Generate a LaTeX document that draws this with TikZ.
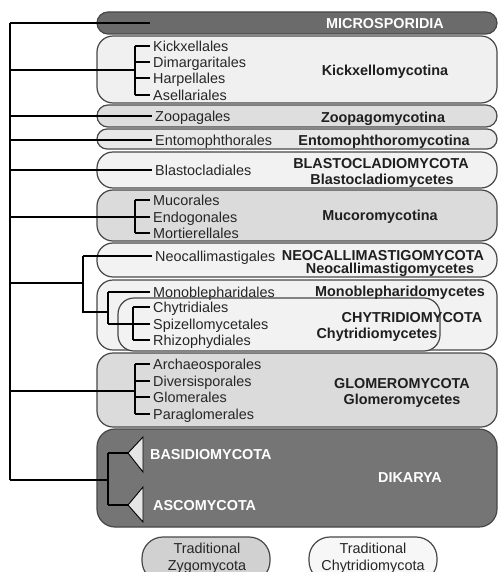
\documentclass[tikz,border=0pt]{standalone}
\usepackage{fontspec}
\setmainfont{Liberation Sans}
\begin{document}
\begin{tikzpicture}[x=1pt,y=-1pt,
  every node/.style={font=\fontsize{14.4}{16}\selectfont},
  box/.style={draw=black!72,line width=1.2pt,rounded corners=#1},
  box/.default=14pt,
  item/.style={anchor=west,inner xsep=3pt,inner ysep=0pt,text height=10.3pt,text depth=0pt,text=black!85},
  title/.style={font=\fontsize{14.4}{16}\selectfont\bfseries,inner sep=0pt,text height=10.3pt,text depth=0pt,text=black!88},
  wtitle/.style={title,text=white},
  legend/.style={align=center,inner sep=0pt,text=black!85,font=\fontsize{14.4}{17}\selectfont},
  tree/.style={draw=black,line width=1.2pt},
  tri/.style={draw=black,line width=0.9pt,fill=black!10,line join=miter}]
\useasboundingbox (0,0) rectangle (503,572);
\clip (0,0) rectangle (503,572);
\fill[white] (0,0) rectangle (503,572);
% boxes
\draw[box=11pt,fill=black!58] (97,12) rectangle (497,34);
\draw[box=16pt,fill=black!6] (97,36) rectangle (497,103);
\draw[box=11pt,fill=black!13] (97,105) rectangle (497,127);
\draw[box=10pt,fill=black!9] (97,129) rectangle (497,149);
\draw[box=16pt,fill=black!5] (97,152) rectangle (497,188);
\draw[box=16pt,fill=black!14] (97,190) rectangle (497,241);
\draw[box=16pt,fill=black!5] (97,243) rectangle (497,277);
\draw[box=16pt,fill=black!5] (97,280) rectangle (497,350);
\draw[box=16pt,fill=black!5] (118,298) rectangle (440,351);
\draw[box=16pt,fill=black!14] (97,353) rectangle (497,427);
\draw[box=18pt,fill=black!54] (97,429) rectangle (497,527);
\draw[box=21pt,fill=black!18] (142,537) rectangle (270,582);
\draw[box=21pt,fill=black!3] (309,537) rectangle (437,582);
% titles
\node[wtitle] (micro) at (385,23) {MICROSPORIDIA};
\node[title] (kickT) at (385,70) {Kickxellomycotina};
\node[title] (zoopT) at (383,117) {Zoopagomycotina};
\node[title] (entoT) at (384,140) {Entomophthoromycotina};
\node[title] (blaT1) at (381,163) {BLASTOCLADIOMYCOTA};
\node[title] (blaT2) at (382,179) {Blastocladiomycetes};
\node[title] (mucT) at (380,215) {Mucoromycotina};
\node[title] (neoT1) at (383,255) {NEOCALLIMASTIGOMYCOTA};
\node[title] (neoT2) at (390,268) {Neocallimastigomycetes};
\node[title] (monT) at (400,291) {Monoblepharidomycetes};
\node[title] (chyT1) at (412,317) {CHYTRIDIOMYCOTA};
\node[title] (chyT2) at (377,333) {Chytridiomycetes};
\node[title] (gloT1) at (402,383) {GLOMEROMYCOTA};
\node[title] (gloT2) at (402,399) {Glomeromycetes};
\node[wtitle,anchor=west] (basT) at (150,454) {BASIDIOMYCOTA};
\node[wtitle,anchor=west] (ascT) at (153,505) {ASCOMYCOTA};
\node[wtitle] (dikT) at (410,477) {DIKARYA};
\node[legend] (legZ) at (207,558) {Traditional\\Zygomycota};
\node[legend] (legC) at (373,558) {Traditional\\Chytridiomycota};
% items
\node[item] (k1) at (150,46) {Kickxellales};
\node[item] (k2) at (150,62) {Dimargaritales};
\node[item] (k3) at (150,78) {Harpellales};
\node[item] (k4) at (150,95) {Asellariales};
\node[item] (zo) at (152,116) {Zoopagales};
\node[item] (en) at (152,140) {Entomophthorales};
\node[item] (bl) at (152,170) {Blastocladiales};
\node[item] (m1) at (150,200) {Mucorales};
\node[item] (m2) at (150,217) {Endogonales};
\node[item] (m3) at (150,233) {Mortierellales};
\node[item] (ne) at (152,256) {Neocallimastigales};
\node[item] (mo) at (150,292) {Monoblepharidales};
\node[item] (c1) at (150,307) {Chytridiales};
\node[item] (c2) at (150,324) {Spizellomycetales};
\node[item] (c3) at (150,340) {Rhizophydiales};
\node[item] (g1) at (150,364) {Archaeosporales};
\node[item] (g2) at (150,381) {Diversisporales};
\node[item] (g3) at (150,397) {Glomerales};
\node[item] (g4) at (150,414) {Paraglomerales};
% tree coordinates
\coordinate (rtop) at (10,23);
\coordinate (rbot) at (10,480);
\coordinate (mse) at (150,23);
\coordinate (kb) at (135,70);
\coordinate (mb) at (135,217);
\coordinate (gb) at (135,391);
\coordinate (nc) at (83,283);
\coordinate (cj) at (108,312);
\coordinate (cb) at (133,324);
\coordinate (dj) at (108,480);
% triangles
\draw[tri] (128,453) coordinate (bt) -- (143,437) -- (143,472) -- cycle;
\draw[tri] (128,505) coordinate (at) -- (143,487) -- (143,522) -- cycle;
% tree
\draw[tree] (rtop) -- (rbot);
\draw[tree] (rtop) -- (mse);
\draw[tree] (kb -| rtop) -- (kb);
\draw[tree] (kb |- k1) -- (kb |- k4);
\foreach \n in {k1,k2,k3,k4} \draw[tree] (kb |- \n) -- (\n.west);
\draw[tree] (rtop |- zo) -- (zo.west);
\draw[tree] (rtop |- en) -- (en.west);
\draw[tree] (rtop |- bl) -- (bl.west);
\draw[tree] (mb -| rtop) -- (mb);
\draw[tree] (mb |- m1) -- (mb |- m3);
\foreach \n in {m1,m2,m3} \draw[tree] (mb |- \n) -- (\n.west);
\draw[tree] (nc -| rtop) -- (nc);
\draw[tree] (nc |- ne) -- (nc |- cj) -- (cj);
\draw[tree] (ne.west) -- (nc |- ne);
\draw[tree] (cj |- mo) -- (cj |- cb);
\draw[tree] (cj |- mo) -- (mo.west);
\draw[tree] (cj |- cb) -- (cb);
\draw[tree] (cb |- c1) -- (cb |- c3);
\foreach \n in {c1,c2,c3} \draw[tree] (cb |- \n) -- (\n.west);
\draw[tree] (gb -| rtop) -- (gb);
\draw[tree] (gb |- g1) -- (gb |- g4);
\foreach \n in {g1,g2,g3,g4} \draw[tree] (gb |- \n) -- (\n.west);
\draw[tree] (rbot) -- (dj);
\draw[tree] (dj |- bt) -- (dj |- at);
\draw[tree] (dj |- bt) -- (bt);
\draw[tree] (dj |- at) -- (at);
\end{tikzpicture}
\end{document}
